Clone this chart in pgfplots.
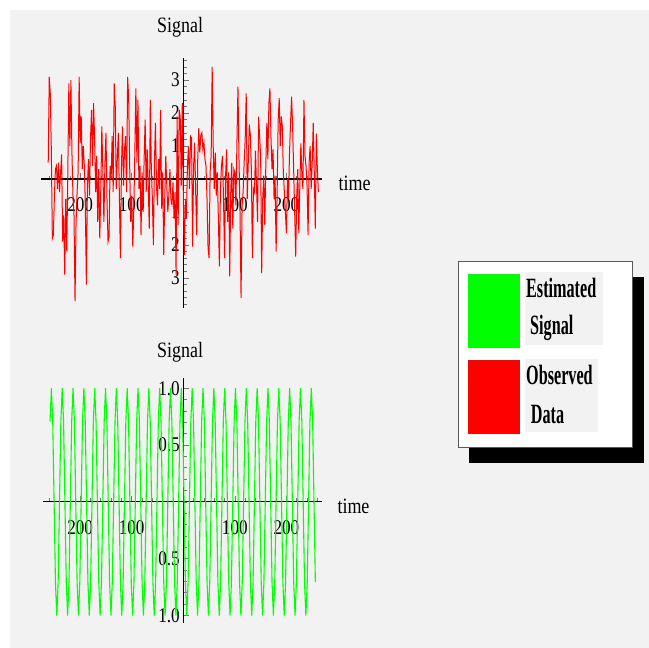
\documentclass[border=0pt]{standalone}
\usepackage{fontspec}
\setmainfont{Liberation Serif}
\newfontfamily\tickf{Liberation Serif}[FakeStretch=0.82]
\newfontfamily\legf{Liberation Serif}[FakeStretch=0.58]
\usepackage{pgfplots}
\pgfplotsset{compat=1.18}
\definecolor{bggrey}{HTML}{F2F2F2}
\definecolor{tickgrey}{HTML}{777777}
\pgfplotsset{
  mmastyle/.style={
    scale only axis,
    axis lines=middle,
    axis line style={-, line width=1.1bp, black},
    tick align=inside,
    major tick length=6bp, minor tick length=3.5bp,
    tick style={tickgrey, line width=0.6bp},
    tick label style={font=\tickf\fontsize{21}{21}\selectfont, black},
    xticklabel style={yshift=-15bp},
    clip=false,
  }
}
\begin{document}
\begin{tikzpicture}
\fill[white] (0bp,0bp) rectangle (649bp,648bp);
\fill[bggrey] (10bp,0bp) rectangle (649bp,638bp);

% ---------- top: observed data ----------
\begin{axis}[mmastyle,
  at={(41bp,340bp)}, anchor=south west,
  width=281bp, height=250bp,
  xmin=-276, xmax=269, ymin=-3.91, ymax=3.67,
  xtick={-200,-100,100,200}, xticklabels={200,100,100,200},
  ytick={-3,-2,-1,1,2,3}, yticklabels={3,2,1,1,2,3},
  minor xtick={-260,-240,...,260},
  minor ytick={-3.8,-3.6,...,3.6},
  xlabel={time}, ylabel={Signal},
  every axis x label/.style={at={(axis cs:269,0)}, anchor=west, xshift=13bp, yshift=-4bp, font=\tickf\fontsize{22}{22}\selectfont},
  every axis y label/.style={at={(axis cs:-6,3.67)}, anchor=center, yshift=31bp, font=\tickf\fontsize{22}{22}\selectfont},
]
\addplot[red, line width=1.0bp] coordinates {
(-262,0.5) (-260,3.1) (-258,2.6) (-256,0.9) (-254,-1.8) (-252,-1.7) (-250,-0.5) (-248,0.3)
(-246,0.4) (-244,-0.3) (-242,0.5) (-240,-0.4) (-238,0.2) (-236,0.75) (-234,-1.9) (-232,-1.1)
(-230,-2.9) (-228,-0.6) (-226,-2.2) (-224,0.2) (-222,2.9) (-220,1.0) (-218,3.0) (-216,0.8)
(-214,-0.5) (-212,-1.1) (-210,-3.7) (-208,-1.3) (-206,-0.4) (-204,0.2) (-202,3.1) (-200,1.1)
(-198,1.9) (-196,0.3) (-194,1.0) (-192,0.4) (-190,-0.8) (-188,-3.2) (-186,-0.2) (-184,0.6)
(-182,-0.5) (-180,1.2) (-178,2.1) (-176,0.4) (-174,2.3) (-172,1.2) (-170,-0.4) (-168,0.7)
(-166,-1.3) (-164,0.3) (-162,-1.8) (-160,-0.3) (-158,1.6) (-156,0.2) (-154,-1.3) (-152,0.5)
(-150,1.4) (-148,-0.6) (-146,-1.9) (-144,-1.75) (-142,0.4) (-140,0.0) (-138,1.3) (-136,-0.4)
(-134,2.9) (-132,2.2) (-130,-0.3) (-128,0.6) (-126,1.4) (-124,-0.5) (-122,-2.4) (-120,0.3)
(-118,1.6) (-116,-0.2) (-114,0.9) (-112,1.3) (-110,-0.4) (-108,3.1) (-106,2.5) (-104,0.4)
(-102,-1.3) (-100,-0.5) (-98,-2.05) (-96,-0.9) (-94,0.8) (-92,2.75) (-90,0.5) (-88,2.4)
(-86,-0.3) (-84,0.4) (-82,-1.7) (-80,0.2) (-78,-1.0) (-76,0.6) (-74,1.8) (-72,-0.4)
(-70,0.9) (-68,-0.2) (-66,-1.5) (-64,2.4) (-62,0.3) (-60,-0.6) (-58,-2.0) (-56,0.5)
(-54,1.7) (-52,-0.2) (-50,-0.8) (-48,0.6) (-46,-0.3) (-44,2.1) (-42,-0.9) (-40,0.2)
(-38,-2.3) (-36,-0.6) (-34,0.7) (-32,-0.2) (-30,-1.0) (-28,-0.5) (-26,0.3) (-24,-0.6)
(-22,-0.8) (-20,-0.1) (-18,-1.2) (-16,-0.4) (-14,-2.9) (-12,1.9) (-10,-1.4) (-8,2.1)
(-6,1.9) (-4,-0.2) (-2,2.3) (0,-0.5) (2,-2.3) (4,-0.6) (6,-1.2) (8,0.4)
(10,0.98) (12,-0.3) (14,1.3) (16,1.25) (18,-2.05) (20,0.4) (22,1.1) (24,-0.4)
(26,-1.7) (28,0.6) (30,1.54) (32,0.8) (34,1.33) (36,1.4) (38,0.9) (40,1.1)
(42,0.6) (44,0.4) (46,-0.6) (48,-2.1) (50,-2.4) (52,0.2) (54,0.7) (56,3.4)
(58,1.0) (60,-0.3) (62,0.8) (64,-0.5) (66,0.2) (68,-1.2) (70,-2.65) (72,-0.3)
(74,0.4) (76,0.7) (78,-0.6) (80,-2.4) (82,0.1) (84,0.9) (86,-1.3) (88,0.2)
(90,-2.95) (92,-0.4) (94,0.5) (96,-1.5) (98,0.3) (100,0.2) (102,-0.8) (104,1.1)
(106,2.8) (108,0.6) (110,-1.0) (112,-3.6) (114,-0.8) (116,-0.4) (118,0.5) (120,1.2)
(122,2.6) (124,-0.6) (126,0.5) (128,1.65) (130,1.35) (132,0.3) (134,-2.4) (136,-0.3)
(138,-0.4) (140,0.86) (142,-0.2) (144,-1.3) (146,1.89) (148,1.3) (150,0.7) (152,-2.85)
(154,-0.6) (156,0.1) (158,-1.4) (160,0.4) (162,1.7) (164,0.6) (166,2.3) (168,2.75)
(170,1.3) (172,0.3) (174,0.9) (176,-0.6) (178,0.1) (180,-2.2) (182,-0.4) (184,1.8)
(186,2.45) (188,1.0) (190,1.9) (192,1.6) (194,0.2) (196,-0.4) (198,-1.0) (200,-1.65)
(202,0.0) (204,-0.6) (206,0.8) (208,1.7) (210,2.5) (212,1.6) (214,0.3) (216,-1.0)
(218,-2.35) (220,-0.5) (222,0.3) (224,-1.65) (226,-0.2) (228,1.08) (230,0.1) (232,-0.3)
(234,2.4) (236,0.7) (238,0.4) (240,-0.2) (242,-1.7) (244,0.5) (246,1.0) (248,-0.3)
(250,0.5) (252,1.7) (254,0.2) (256,-1.5) (258,1.38) (260,0.3) (262,-0.4)
};
\end{axis}

% ---------- bottom: estimated signal ----------
\begin{axis}[mmastyle,
  at={(43bp,25bp)}, anchor=south west,
  width=279bp, height=245bp,
  xmin=-272, xmax=269, ymin=-1.066, ymax=1.09,
  xtick={-200,-100,100,200}, xticklabels={200,100,100,200},
  ytick={-1,-0.5,0.5,1}, yticklabels={1.0,0.5,0.5,1.0},
  minor xtick={-260,-240,...,260},
  minor ytick={-1,-0.9,...,1},
  xlabel={time}, ylabel={Signal},
  every axis x label/.style={at={(axis cs:269,0)}, anchor=west, xshift=12bp, yshift=-4bp, font=\tickf\fontsize{22}{22}\selectfont},
  every axis y label/.style={at={(axis cs:-6,1.09)}, anchor=center, yshift=26bp, font=\tickf\fontsize{22}{22}\selectfont},
]
\addplot[green, line width=1.1bp] coordinates {
(-258.375,0.707) (-255.75,1) (-253.125,0.707) (-250.5,0) (-247.875,-0.707) (-245.25,-1) (-242.625,-0.707) (-240,0)
(-237.375,0.707) (-234.75,1) (-232.125,0.707) (-229.5,0) (-226.875,-0.707) (-224.25,-1) (-221.625,-0.707) (-219,0)
(-216.375,0.707) (-213.75,1) (-211.125,0.707) (-208.5,0) (-205.875,-0.707) (-203.25,-1) (-200.625,-0.707) (-198,0)
(-195.375,0.707) (-192.75,1) (-190.125,0.707) (-187.5,0) (-184.875,-0.707) (-182.25,-1) (-179.625,-0.707) (-177,0)
(-174.375,0.707) (-171.75,1) (-169.125,0.707) (-166.5,0) (-163.875,-0.707) (-161.25,-1) (-158.625,-0.707) (-156,0)
(-153.375,0.707) (-150.75,1) (-148.125,0.707) (-145.5,0) (-142.875,-0.707) (-140.25,-1) (-137.625,-0.707) (-135,0)
(-132.375,0.707) (-129.75,1) (-127.125,0.707) (-124.5,0) (-121.875,-0.707) (-119.25,-1) (-116.625,-0.707) (-114,0)
(-111.375,0.707) (-108.75,1) (-106.125,0.707) (-103.5,0) (-100.875,-0.707) (-98.25,-1) (-95.625,-0.707) (-93,0)
(-90.375,0.707) (-87.75,1) (-85.125,0.707) (-82.5,0) (-79.875,-0.707) (-77.25,-1) (-74.625,-0.707) (-72,0)
(-69.375,0.707) (-66.75,1) (-64.125,0.707) (-61.5,0) (-58.875,-0.707) (-56.25,-1) (-53.625,-0.707) (-51,0)
(-48.375,0.707) (-45.75,1) (-43.125,0.707) (-40.5,0) (-37.875,-0.707) (-35.25,-1) (-32.625,-0.707) (-30,0)
(-27.375,0.707) (-24.75,1) (-22.125,0.707) (-19.5,0) (-16.875,-0.707) (-14.25,-1) (-11.625,-0.707) (-9,0)
(-6.375,0.707) (-3.75,1) (-1.125,0.707) (1.5,0) (4.125,-0.707) (6.75,-1) (9.375,-0.707) (12,0)
(14.625,0.707) (17.25,1) (19.875,0.707) (22.5,0) (25.125,-0.707) (27.75,-1) (30.375,-0.707) (33,0)
(35.625,0.707) (38.25,1) (40.875,0.707) (43.5,0) (46.125,-0.707) (48.75,-1) (51.375,-0.707) (54,0)
(56.625,0.707) (59.25,1) (61.875,0.707) (64.5,0) (67.125,-0.707) (69.75,-1) (72.375,-0.707) (75,0)
(77.625,0.707) (80.25,1) (82.875,0.707) (85.5,0) (88.125,-0.707) (90.75,-1) (93.375,-0.707) (96,0)
(98.625,0.707) (101.25,1) (103.875,0.707) (106.5,0) (109.125,-0.707) (111.75,-1) (114.375,-0.707) (117,0)
(119.625,0.707) (122.25,1) (124.875,0.707) (127.5,0) (130.125,-0.707) (132.75,-1) (135.375,-0.707) (138,0)
(140.625,0.707) (143.25,1) (145.875,0.707) (148.5,0) (151.125,-0.707) (153.75,-1) (156.375,-0.707) (159,0)
(161.625,0.707) (164.25,1) (166.875,0.707) (169.5,0) (172.125,-0.707) (174.75,-1) (177.375,-0.707) (180,0)
(182.625,0.707) (185.25,1) (187.875,0.707) (190.5,0) (193.125,-0.707) (195.75,-1) (198.375,-0.707) (201,0)
(203.625,0.707) (206.25,1) (208.875,0.707) (211.5,0) (214.125,-0.707) (216.75,-1) (219.375,-0.707) (222,0)
(224.625,0.707) (227.25,1) (229.875,0.707) (232.5,0) (235.125,-0.707) (237.75,-1) (240.375,-0.707) (243,0)
(245.625,0.707) (248.25,1) (250.875,0.707) (253.5,0) (256.125,-0.707)
};
\end{axis}

% ---------- legend ----------
\fill[black] (469bp,185bp) rectangle (644bp,371bp);
\filldraw[fill=white, draw=black!65, line width=0.9bp] (458.3bp,200.7bp) rectangle (632.3bp,387bp);
\fill[green] (467.7bp,300.3bp) rectangle (520bp,374bp);
\fill[bggrey] (525bp,303bp) rectangle (602.7bp,376bp);
\fill[red] (467.7bp,214bp) rectangle (520bp,288bp);
\fill[bggrey] (525bp,216.3bp) rectangle (598bp,289bp);
\begin{scope}[every node/.style={anchor=base west, inner sep=0pt, font=\legf\bfseries\fontsize{28}{28}\selectfont}]
\node at (526bp,350bp) {Estimated};
\node at (530bp,313bp) {Signal};
\node at (526bp,263bp) {Observed};
\node at (530.7bp,224.7bp) {Data};
\end{scope}
\end{tikzpicture}
\end{document}
